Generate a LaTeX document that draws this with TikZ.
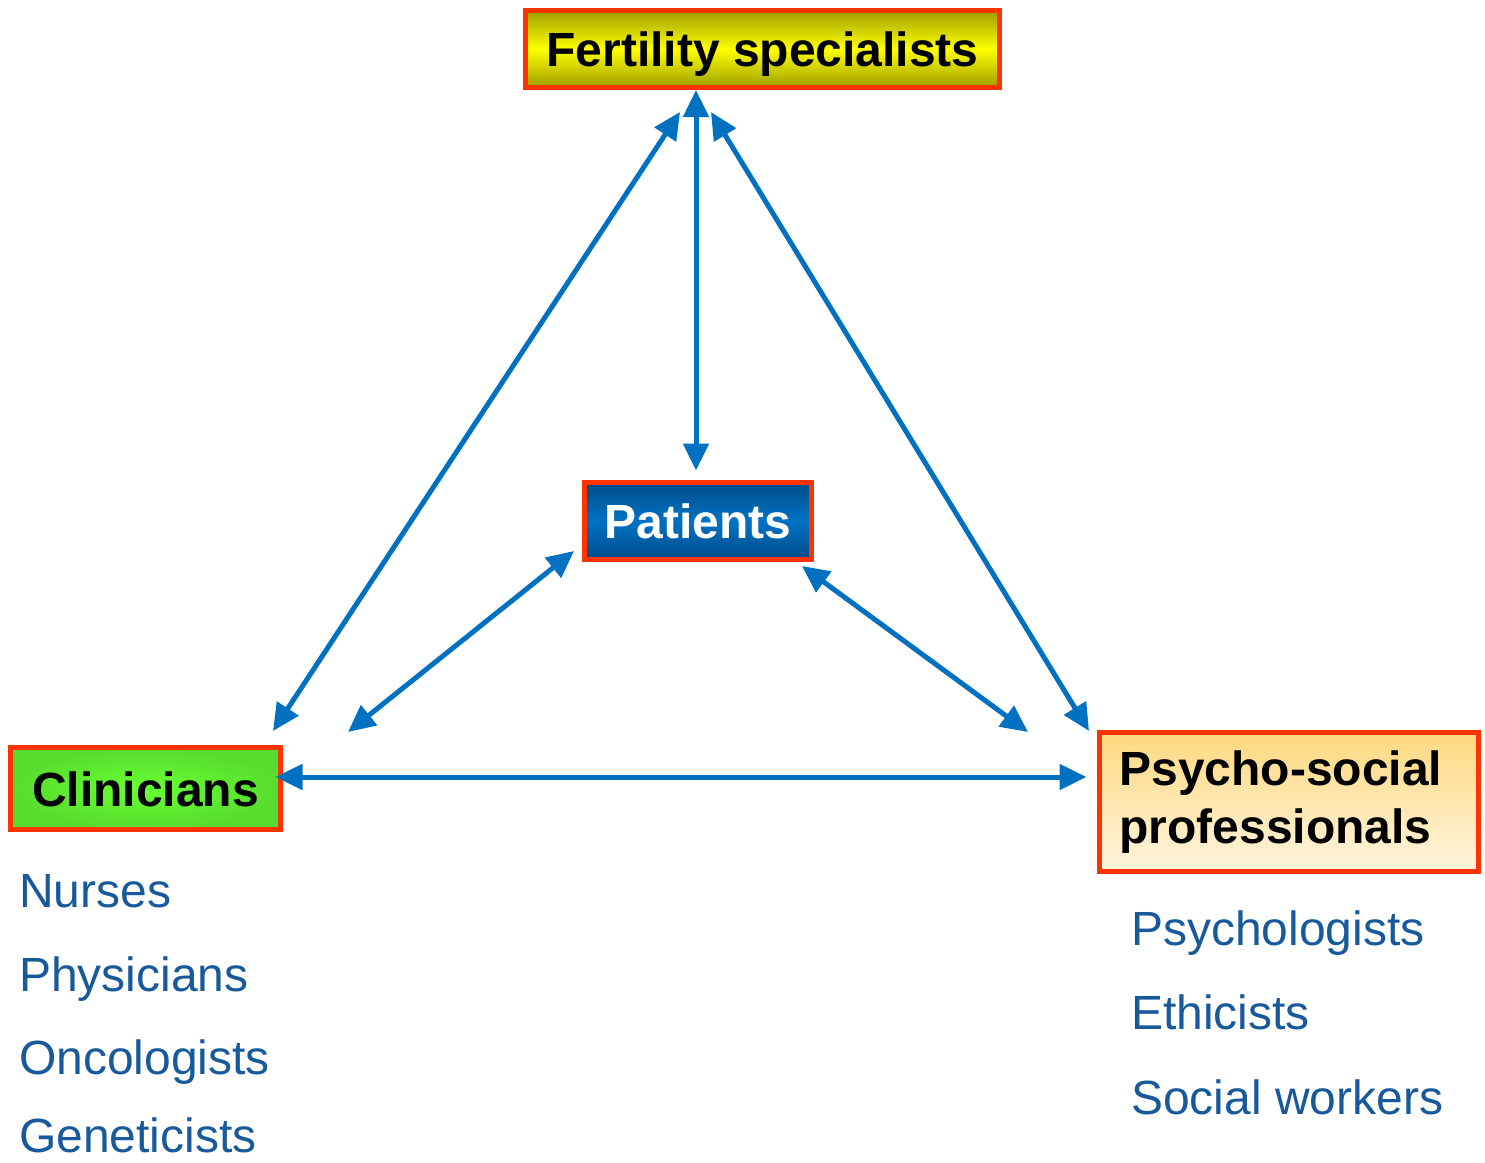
\documentclass[tikz,border=0pt]{standalone}
\usepackage{fontspec}
\setmainfont{Liberation Sans}
\usetikzlibrary{arrows.meta}

\definecolor{linkblue}{HTML}{0070C0}
\definecolor{listblue}{HTML}{17599B}
\definecolor{boxred}{HTML}{FF3300}
\definecolor{fertdark}{HTML}{9E9E00}
\definecolor{fertyellow}{HTML}{FFFF00}
\definecolor{patdark}{HTML}{004C88}
\definecolor{patblue}{HTML}{0072C4}
\definecolor{clingreen}{HTML}{66FF33}
\definecolor{clindark}{HTML}{58DC2E}
\definecolor{psytop}{HTML}{FFD980}
\definecolor{psybottom}{HTML}{FFF4DE}

\begin{document}
\begin{tikzpicture}[
    x=1pt, y=-1pt,
    box/.style={draw=boxred, line width=5pt, minimum height=77pt, inner sep=0pt,
      font=\fontsize{48}{58}\selectfont\bfseries},
    oneline/.style={text height=35pt, text depth=0pt},
    member/.style={anchor=base west, inner sep=0pt, text=listblue,
      font=\fontsize{48}{58}\selectfont},
    link/.style={arrows={Triangle[length=27pt,width=25pt]-Triangle[length=27pt,width=25pt]},
      line width=5pt, draw=linkblue}
  ]
    \useasboundingbox (0,0) rectangle (1485,1162);
    % the four groups
    \node[box, oneline, minimum width=474pt, top color=fertdark, bottom color=fertdark,
      middle color=fertyellow] (fert) at (762.5,49) {Fertility specialists};
    \node[box, oneline, minimum width=227pt, text=white, top color=patdark, bottom color=patdark,
      middle color=patblue] (pat) at (698,521) {Patients};
    \node[box, oneline, minimum width=270pt, minimum height=82pt, inner color=clingreen,
      outer color=clindark] (clin) at (145.5,788.5) {Clinicians};
    \node[box, minimum height=139pt, text width=339pt, inner xsep=20pt, align=left,
      top color=psytop, bottom color=psybottom] (psy) at (1289,802) {Psycho-social\\professionals};
    % members
    \node[member] (nurses) at (19,907) {Nurses};
    \node[member] (physicians) at (19,991) {Physicians};
    \node[member] (oncologists) at (19,1074) {Oncologists};
    \node[member] (geneticists) at (19,1152) {Geneticists};
    \node[member] (psychologists) at (1131,945) {Psychologists};
    \node[member] (ethicists) at (1131,1029) {Ethicists};
    \node[member] (socialworkers) at (1131,1114) {Social workers};
    % arrow ends
    \coordinate (fertL) at (680,112);
    \coordinate (fertR) at (711,112);
    \coordinate (clinT) at (273,731);
    \coordinate (clinTR) at (348,732);
    \coordinate (patL) at (574,551);
    \coordinate (patR) at (802,566);
    \coordinate (psyTL) at (1028,732);
    \coordinate (psyT) at (1089,731);
    \draw[link, shorten >=9.5pt] ([xshift=-2pt]fert.south -| pat.north) -- ([xshift=-2pt]pat.north);
    \draw[link] (fertL) -- (clinT);
    \draw[link] (fertR) -- (psyT);
    \draw[link] (patL) -- (clinTR);
    \draw[link] (patR) -- (psyTL);
    \draw[link, shorten <=-7.5pt, shorten >=10.5pt] ([yshift=11.5pt]clin.east) -- ([yshift=25pt]psy.west);
  \end{tikzpicture}
\end{document}
